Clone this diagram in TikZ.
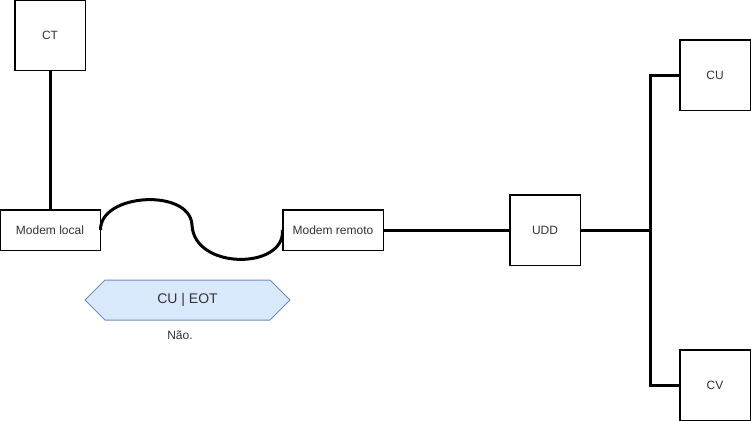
\documentclass[tikz,border=0pt]{standalone}
\usepackage{fontspec}
\setmainfont{Liberation Sans}
\definecolor{txt}{HTML}{333333}
\definecolor{hexfill}{HTML}{DAE8FC}
\definecolor{hexline}{HTML}{6C8EBF}
\begin{document}
\begin{tikzpicture}[x=0.75pt,y=-0.75pt,
  box/.style={draw=black,line width=0.75pt,fill=white,inner sep=0pt,
    text=txt,font=\fontsize{9pt}{11pt}\selectfont},
  sq/.style={box,minimum width=52.5pt,minimum height=52.5pt},
  modem/.style={box,minimum width=75pt,minimum height=30pt},
  wire/.style={line width=2.25pt}]
\useasboundingbox (0,0) rectangle (751,421);
\fill[white] (0,0) rectangle (751,421);

% equipment boxes
\coordinate (j) at (650,230);
\node[sq] (ct) at (50,35) {CT};
\node[modem] (ml) at (50,230) {Modem local};
\node[modem] (mr) at (333,230) {Modem remoto};
\node[sq] (udd) at (545,230) {UDD};
\node[sq] (cu) at (715,75) {CU};
\node[sq] (cv) at (715,385) {CV};

% cables
\draw[wire] (ct.south) -- (ml.north);
\draw[wire] (ml.east) .. controls (100,193) and (190,188) .. (192,225)
  .. controls (194,270) and (285,270) .. (mr.west);
\draw[wire] (mr.east) -- (udd.west);
\draw[wire] (udd.east) -- (j);
\draw[wire] (j) |- (cu.west);
\draw[wire] (j) |- (cv.west);

% box borders over the cable ends
\foreach \n in {ct,ml,mr,udd,cu,cv}{
  \draw[line width=0.75pt] (\n.north west) rectangle (\n.south east);
}

% direction tag
\draw[draw=hexline,fill=hexfill,line width=0.75pt]
  (85,300) -- (105,280) -- (270,280) -- (290,300) -- (270,320) -- (105,320) -- cycle;
\node[text=txt,font=\fontsize{10.5pt}{12pt}\selectfont] (tag) at (187.5,300) {CU | EOT};
\node[text=txt,font=\fontsize{9pt}{11pt}\selectfont] (nao) at (180,335) {Não.};
\end{tikzpicture}
\end{document}
